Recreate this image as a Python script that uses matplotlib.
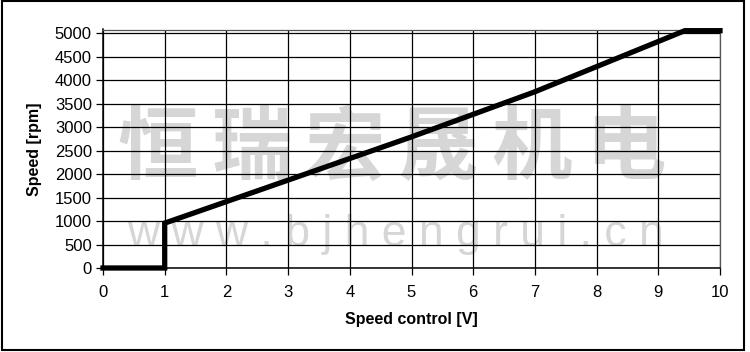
import matplotlib
matplotlib.use("Agg")
import matplotlib.pyplot as plt
from matplotlib.patches import Rectangle

plt.rcParams["font.family"] = ["Liberation Sans", "Noto Sans CJK SC", "DejaVu Sans"]

# speed curve: control voltage [V] -> speed [rpm]
control_v = [0, 1, 1, 3, 5, 7, 9.43, 10]
speed_rpm = [0, 0, 955, 1870, 2790, 3750, 5050, 5050]

x_ticks = list(range(0, 11))
y_ticks = list(range(0, 5001, 500))

watermark_cn = "恒瑞宏晟机电"
watermark_url = "w w w . b j h e n g r u i . c n"


def generate_figure():
    fig = plt.figure(figsize=(7.5, 3.52), dpi=100)
    ax = fig.add_axes([103 / 750, 1 - 268 / 352, 617 / 750, 238.5 / 352])
    ax.set_facecolor("none")

    ax.plot(control_v, speed_rpm, color="black", linewidth=3.8,
            solid_joinstyle="miter", zorder=3, clip_on=False)

    ax.set_xlim(0, 10)
    ax.set_ylim(0, 5075)
    ax.set_xticks(x_ticks)
    ax.set_yticks(y_ticks)
    ax.grid(True, color="black", linewidth=0.9)
    ax.tick_params(direction="out", length=5, width=0.9, labelsize=12,
                   colors="black", pad=3)
    ax.tick_params(axis="x", pad=7)
    for side in ["left", "bottom"]:
        ax.spines[side].set_linewidth(1.1)
    for side in ["top", "right"]:
        ax.spines[side].set_linewidth(0.9)
        ax.spines[side].set_color("#555555")

    ax.set_xlabel("Speed control [V]", fontsize=11.5, fontweight="bold", labelpad=9)
    ax.set_ylabel("Speed [rpm]", fontsize=11.5, fontweight="bold", labelpad=9)

    # watermark, behind the grid
    x0, pitch = 158, 93.4
    for i, ch in enumerate(watermark_cn):
        fig.text((x0 + i * pitch) / 750, 0.574, ch, fontsize=58, fontweight="bold",
                 color="#d6d6d6", ha="center", va="center",
                 family=["Noto Sans CJK SC"], zorder=-1)
    fig.text(0.527, 0.335, watermark_url, fontsize=32, color="#d6d6d6",
             ha="center", va="center", zorder=-1)

    # outer frame
    fig.patches.append(Rectangle((0.002, 0.006), 0.99, 0.99, transform=fig.transFigure,
                                 fill=False, edgecolor="black", linewidth=1.5))
    return fig


def main():
    fig = generate_figure()
    fig.savefig("out.png", dpi=100)


if __name__ == "__main__":
    main()
